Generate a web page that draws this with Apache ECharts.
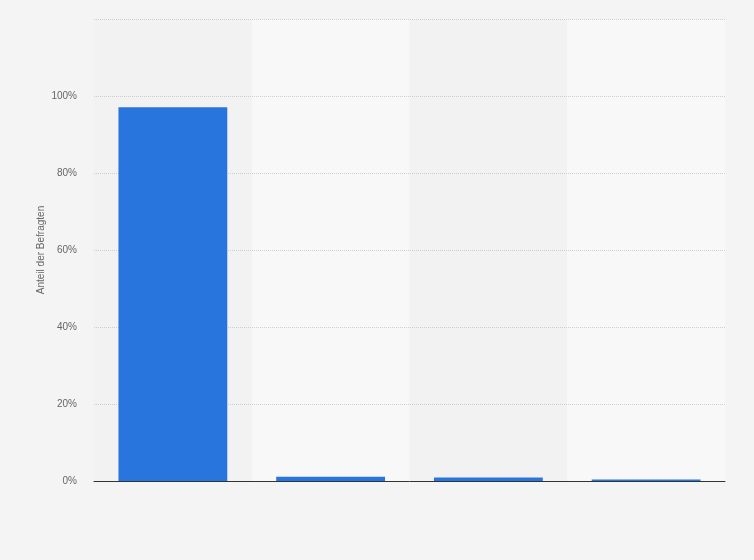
<!DOCTYPE html>
<html><head><meta charset="utf-8">
<script src="https://cdn.jsdelivr.net/npm/echarts@6/dist/echarts.min.js"></script>
<style>html,body{margin:0;padding:0;background:#f4f4f4}#c{width:754px;height:560px}</style>
</head><body><div id="c"></div>
<script>
const categories = ['A', 'B', 'C', 'D'];
const values = [97.1, 1.1, 0.9, 0.4];
const yTicks = { min: 0, max: 120, interval: 20 };

const chart = echarts.init(document.getElementById('c'));
chart.setOption({
  backgroundColor: '#f4f4f4',
  animation: false,
  grid: { left: 94, right: 29, top: 19, bottom: 79 },
  xAxis: [{
    type: 'category', data: categories, z: 3,
    axisLine: { lineStyle: { color: '#333', width: 1 } },
    axisTick: { show: false }, axisLabel: { show: false },
    splitArea: { show: false }
  }, {
    type: 'category', data: categories, z: 0, position: 'bottom',
    axisLine: { show: false }, axisTick: { show: false }, axisLabel: { show: false },
    splitArea: { show: true, areaStyle: { color: ['#f2f2f2', '#f8f8f8'] } }
  }],
  yAxis: {
    type: 'value', min: yTicks.min, max: yTicks.max, interval: yTicks.interval, z: 1,
    name: 'Anteil der Befragten', nameLocation: 'middle', nameGap: 48, nameMoveOverlap: false,
    nameTextStyle: { color: '#666', fontSize: 10, fontFamily: 'Arial, Liberation Sans' },
    axisLine: { show: false }, axisTick: { show: false },
    axisLabel: { color: '#666', fontSize: 10, margin: 17, fontFamily: 'Arial, Liberation Sans',
      formatter: v => v === 120 ? '' : v + '%' },
    splitLine: { lineStyle: { color: '#cfcfcf', type: [1, 1] } }
  },
  series: [{
    type: 'bar', data: values, barCategoryGap: '31%', z: 2, xAxisIndex: 0,
    itemStyle: { color: '#2876dd' }
  }]
});
</script></body></html>
